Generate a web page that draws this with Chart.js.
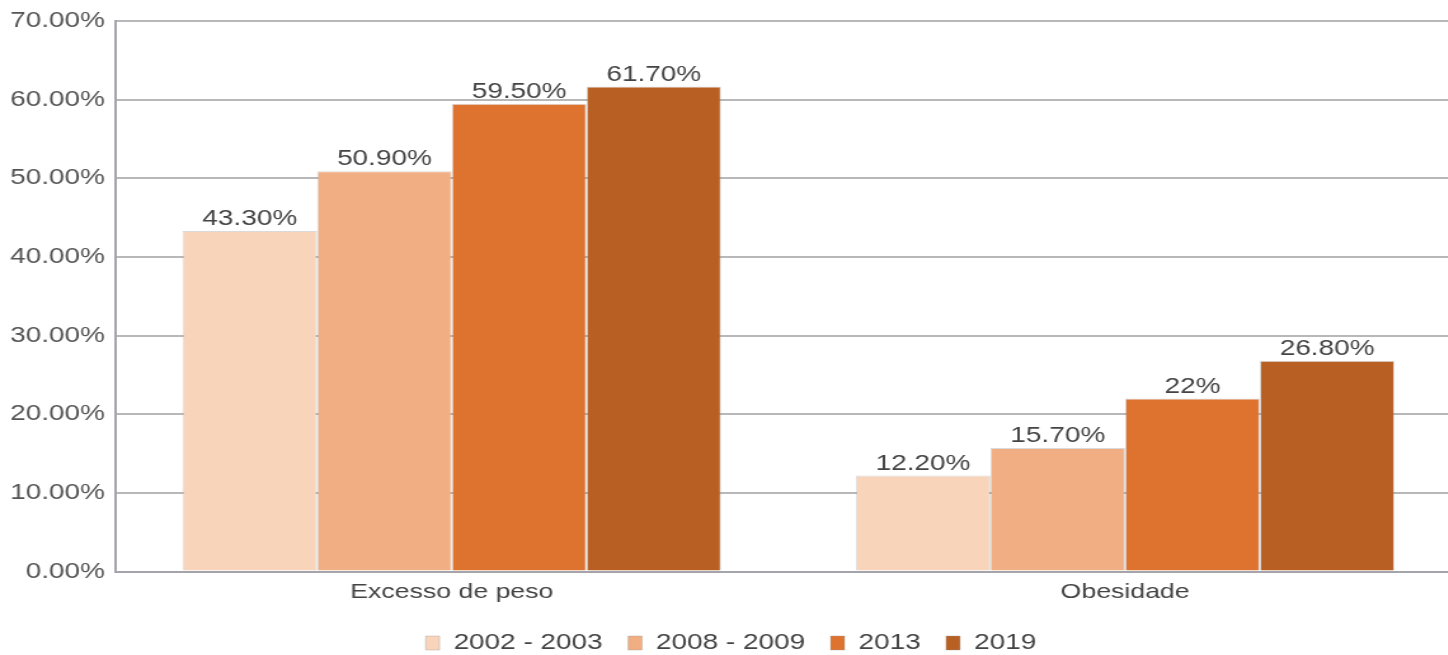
<!DOCTYPE html>
<html>
<head>
<meta charset="utf-8">
<script src="https://cdn.jsdelivr.net/npm/chart.js@4/dist/chart.umd.min.js"></script>
<style>
  html, body { margin: 0; padding: 0; background: #fff; overflow: hidden; }
  /* o original aparece esticado na horizontal, por isso o scaleX */
  #wrap { width: 1151px; height: 655px; transform: scaleX(1.27); transform-origin: 0 0; }
</style>
</head>
<body>
<div id="wrap"><canvas id="grafico"></canvas></div>
<script>
// categorias do eixo X
const categorias = ["Excesso de peso", "Obesidade"];
// series (percentuais)
const anos = ["2002 - 2003", "2008 - 2009", "2013", "2019"];
const serie2002 = [43.3, 12.2];
const serie2008 = [50.9, 15.7];
const serie2013 = [59.5, 22];
const serie2019 = [61.7, 26.8];
// rotulos escritos sobre as barras
const rotulos2002 = ["43.30%", "12.20%"];
const rotulos2008 = ["50.90%", "15.70%"];
const rotulos2013 = ["59.50%", "22%"];
const rotulos2019 = ["61.70%", "26.80%"];
const cores = ["#f8d4bb", "#f2ae83", "#de7330", "#b86024"];

const series = [serie2002, serie2008, serie2013, serie2019];
const rotulos = [rotulos2002, rotulos2008, rotulos2013, rotulos2019];
const fonte = "'Liberation Sans', Arial, sans-serif";

// plugin simples para escrever o valor em cima de cada barra
const rotuloBarras = {
  id: "rotuloBarras",
  afterDatasetsDraw(chart) {
    const ctx = chart.ctx;
    ctx.save();
    ctx.font = "22px " + fonte;
    ctx.fillStyle = "#444";
    ctx.textAlign = "center";
    ctx.textBaseline = "bottom";
    chart.data.datasets.forEach((ds, i) => {
      chart.getDatasetMeta(i).data.forEach((bar, j) => {
        ctx.fillText(rotulos[i][j], bar.x, bar.y - 1);
      });
    });
    ctx.restore();
  }
};

const ctx = document.getElementById("grafico").getContext("2d");
new Chart(ctx, {
  type: "bar",
  data: {
    labels: categorias,
    datasets: anos.map((a, i) => ({
      label: a,
      data: series[i],
      backgroundColor: cores[i],
      borderColor: "rgba(150,150,150,0.35)",
      borderWidth: 1,
      barPercentage: 1.0,
      categoryPercentage: 0.8
    }))
  },
  options: {
    responsive: true,
    maintainAspectRatio: false,
    animation: false,
    layout: { padding: { top: 4, left: 0, right: 0, bottom: 0 } },
    plugins: {
      tooltip: { enabled: false },
      legend: {
        position: "bottom",
        maxHeight: 43, // legenda mais baixa, fica colada embaixo
        labels: {
          boxWidth: 11,
          boxHeight: 14,
          padding: 20,
          color: "#444",
          font: { size: 22, family: fonte }
        }
      }
    },
    scales: {
      x: {
        grid: { display: false, drawTicks: false },
        border: { color: "#a4a4ac", width: 2 },
        ticks: {
          color: "#444",
          padding: 15,
          // lineHeight pequeno so para o eixo ocupar menos altura
          font: { size: 21, family: fonte, lineHeight: 0.5 }
        }
      },
      y: {
        min: 0,
        max: 70,
        grid: { color: "#b8b8b8", lineWidth: 2, drawTicks: false },
        border: { color: "#a4a4ac", width: 2 },
        ticks: {
          stepSize: 10,
          padding: 8,
          color: "#555",
          font: { size: 22, family: fonte },
          callback: v => v.toFixed(2) + "%"
        }
      }
    }
  },
  plugins: [rotuloBarras]
});
</script>
</body>
</html>
